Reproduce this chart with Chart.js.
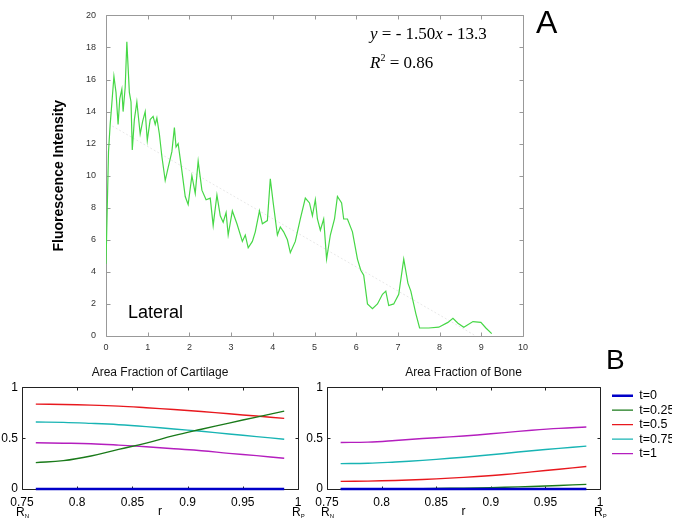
<!DOCTYPE html>
<html>
<head>
<meta charset="utf-8">
<script src="https://cdn.jsdelivr.net/npm/chart.js@4.4.1/dist/chart.umd.min.js"></script>
<style>
  html, body { margin: 0; padding: 0; background: #fff; }
  body { width: 676px; height: 522px; position: relative; overflow: hidden; font-family: "Liberation Sans", Arial, sans-serif; }
  canvas { position: absolute; display: block; }
  .lbl { position: absolute; line-height: 1; white-space: nowrap; color: #000; }
  .serif { font-family: "Liberation Serif", "Times New Roman", serif; font-size: 17px; }
</style>
</head>
<body>
<canvas id="chartA" width="676" height="360" style="left:0px;top:0px"></canvas>
<canvas id="chartB1" width="312" height="164" style="left:0px;top:358px"></canvas>
<canvas id="chartB2" width="390" height="164" style="left:300px;top:358px"></canvas>

<div class="lbl" style="left:536px;top:6px;font-size:32px">A</div>
<div class="lbl" style="left:606px;top:346px;font-size:28px">B</div>
<div class="lbl serif" style="left:370px;top:25px"><i>y</i> = - 1.50<i>x</i> - 13.3</div>
<div class="lbl serif" style="left:370px;top:54px"><i>R</i><span style="font-size:10px;position:relative;top:-7px">2</span> = 0.86</div>
<div class="lbl" style="left:128px;top:303px;font-size:18px">Lateral</div>

<script>
Chart.defaults.font.family = '"Liberation Sans", Arial, Helvetica, sans-serif';

// panel A: lateral profile
const lateralX = [0, 0.03, 0.06, 0.1, 0.14, 0.19, 0.24, 0.29, 0.33, 0.38,
  0.41, 0.46, 0.5, 0.56, 0.6, 0.63, 0.68, 0.74, 0.82, 0.88,
  0.94, 0.99, 1.06, 1.13, 1.18, 1.22, 1.28, 1.34, 1.42, 1.49,
  1.58, 1.64, 1.68, 1.73, 1.82, 1.9, 1.97, 2.06, 2.14, 2.21,
  2.3, 2.4, 2.5, 2.57, 2.66, 2.74, 2.81, 2.88, 2.93, 3.03,
  3.14, 3.27, 3.34, 3.41, 3.51, 3.58, 3.68, 3.75, 3.87, 3.94,
  4.01, 4.11, 4.18, 4.26, 4.35, 4.42, 4.54, 4.66, 4.78, 4.88,
  4.95, 5.02, 5.07, 5.14, 5.22, 5.29, 5.38, 5.48, 5.55, 5.65,
  5.7, 5.79, 5.91, 6.03, 6.11, 6.18, 6.27, 6.39, 6.51, 6.63,
  6.71, 6.78, 6.9, 7.02, 7.14, 7.24, 7.31, 7.43, 7.52, 7.74,
  7.98, 8.2, 8.32, 8.44, 8.58, 8.8, 8.99, 9.11, 9.25];
const lateralY = [4.5, 8, 11.5, 13.2, 14.5, 16.2, 15.2, 13.2, 14.8, 15.4,
  14.0, 15.5, 18.35, 15.2, 14.6, 11.6, 13.5, 14.6, 12.6, 13.4,
  14.0, 12.2, 13.5, 13.7, 13.2, 13.6, 12.6, 11.2, 9.7, 10.5,
  11.5, 13.0, 11.8, 12.0, 10.3, 8.7, 8.2, 10.0, 8.9, 10.9,
  9.1, 8.5, 8.6, 6.9, 8.8, 7.5, 7.1, 7.7, 6.3, 7.8,
  7.0, 5.9, 6.3, 5.5, 5.9, 6.5, 7.8, 7.0, 7.2, 9.8,
  8.3, 6.3, 6.8, 6.5, 6.0, 5.2, 5.9, 7.3, 8.6, 8.3,
  7.5, 8.5, 7.3, 6.6, 7.3, 4.8, 6.3, 7.3, 8.7, 8.3,
  7.3, 7.3, 6.5, 4.8, 4.1, 3.8, 2.0, 1.7, 2.0, 2.6,
  2.8, 1.9, 2.0, 2.6, 4.8, 3.3, 2.8, 1.4, 0.5, 0.5,
  0.55, 0.85, 1.1, 0.8, 0.55, 0.9, 0.85, 0.5, 0.15];
// fitted line end points
const fitX = [0.15, 8.87];
const fitY = [13.1, 0];

// panel B
const rPoints = [0.7625, 0.7875, 0.8125, 0.8375, 0.8625, 0.8875, 0.9125, 0.9375, 0.9625, 0.9875];
const timeLabels = ['t=0', 't=0.25', 't=0.5', 't=0.75', 't=1'];
const cartT0   = [0, 0, 0, 0, 0, 0, 0, 0, 0, 0];
const cartT025 = [0.26, 0.279, 0.325, 0.39, 0.452, 0.525, 0.588, 0.649, 0.708, 0.766];
const cartT05  = [0.835, 0.832, 0.826, 0.816, 0.80, 0.782, 0.763, 0.74, 0.718, 0.695];
const cartT075 = [0.659, 0.656, 0.646, 0.633, 0.614, 0.591, 0.568, 0.542, 0.516, 0.49];
const cartT1   = [0.455, 0.451, 0.445, 0.432, 0.416, 0.396, 0.377, 0.351, 0.328, 0.302];
const boneT0   = [0, 0, 0, 0, 0, 0, 0, 0, 0, 0];
const boneT025 = [0, 0.001, 0.002, 0.004, 0.007, 0.011, 0.017, 0.025, 0.035, 0.046];
const boneT05  = [0.075, 0.078, 0.084, 0.094, 0.107, 0.123, 0.143, 0.169, 0.195, 0.221];
const boneT075 = [0.25, 0.253, 0.266, 0.282, 0.302, 0.325, 0.35, 0.377, 0.4, 0.422];
const boneT1   = [0.458, 0.461, 0.477, 0.497, 0.513, 0.532, 0.555, 0.578, 0.597, 0.61];

const lineColors = ['#0000c8', '#1a7a1a', '#e8181e', '#18b4b4', '#b41ebe'];
const lineWidths = [2.5, 1.4, 1.4, 1.4, 1.4];

// box round the plot area with small inward ticks on all four sides
const innerTicks = {
  id: 'innerTicks',
  beforeDatasetsDraw(chart, args, opts) {
    const { ctx, chartArea: a, scales: { x, y } } = chart;
    const L = Math.round(a.left) + 0.5, R = Math.round(a.right) + 0.5;
    const T = Math.round(a.top) + 0.5, B = Math.round(a.bottom) + 0.5;
    ctx.save();
    ctx.strokeStyle = opts.color;
    ctx.lineWidth = 1;
    ctx.beginPath();
    ctx.rect(L, T, R - L, B - T);
    x.ticks.forEach(t => {
      const p = Math.round(x.getPixelForValue(t.value)) + 0.5;
      ctx.moveTo(p, B); ctx.lineTo(p, B - opts.len);
      ctx.moveTo(p, T); ctx.lineTo(p, T + opts.len);
    });
    y.ticks.forEach(t => {
      const p = Math.round(y.getPixelForValue(t.value)) + 0.5;
      ctx.moveTo(L, p); ctx.lineTo(L + opts.len, p);
      ctx.moveTo(R, p); ctx.lineTo(R - opts.len, p);
    });
    ctx.stroke();
    ctx.restore();
  }
};

// R_N and R_P under the end ticks
const endLabels = {
  id: 'endLabels',
  afterDraw(chart) {
    const { ctx, chartArea, scales: { x } } = chart;
    const base = chartArea.bottom + 27;
    [[0.75, 'N'], [1, 'P']].forEach(([v, sub]) => {
      const px = x.getPixelForValue(v);
      ctx.save();
      ctx.fillStyle = '#000';
      ctx.textAlign = 'left';
      ctx.textBaseline = 'alphabetic';
      ctx.font = '12px "Liberation Sans", Arial, sans-serif';
      const w = ctx.measureText('R').width;
      ctx.fillText('R', px - 6, base);
      ctx.font = '6px "Liberation Sans", Arial, sans-serif';
      ctx.fillText(sub, px - 6 + w, base + 2);
      ctx.restore();
    });
  }
};

new Chart(document.getElementById('chartA'), {
  type: 'scatter',
  data: {
    datasets: [
      {
        data: lateralX.map((x, i) => ({ x, y: lateralY[i] })),
        showLine: true, borderColor: '#46d746', borderWidth: 1.2, pointRadius: 0
      },
      {
        data: fitX.map((x, i) => ({ x, y: fitY[i] })),
        showLine: true, borderColor: '#e8e8e8', borderWidth: 1, borderDash: [2, 2], pointRadius: 0
      }
    ]
  },
  options: {
    responsive: false, animation: false, devicePixelRatio: 1,
    layout: { padding: { left: 0, right: 153, top: 7, bottom: 0 } },
    plugins: {
      legend: { display: false }, tooltip: { enabled: false },
      innerTicks: { color: '#999', len: 4 }
    },
    scales: {
      x: {
        type: 'linear', min: 0, max: 10,
        ticks: { stepSize: 1, font: { size: 9 }, color: '#333', padding: 6, maxRotation: 0 },
        grid: { display: false, drawTicks: false }, border: { display: false },
        afterFit: s => { s.height = 24; }
      },
      y: {
        min: 0, max: 20,
        ticks: { stepSize: 2, font: { size: 9 }, color: '#333', padding: 10 },
        grid: { display: false, drawTicks: false }, border: { display: false },
        title: { display: true, text: 'Fluorescence Intensity', color: '#000',
          font: { size: 14, weight: 'bold' }, padding: { top: 51, bottom: 0 } },
        afterFit: s => { s.width = 106; }
      }
    }
  },
  plugins: [innerTicks]
});

function timeSets(series) {
  return series.map((vals, i) => ({
    label: timeLabels[i],
    data: rPoints.map((r, j) => ({ x: r, y: vals[j] })),
    borderColor: lineColors[i], backgroundColor: lineColors[i],
    borderWidth: lineWidths[i], pointRadius: 0, tension: 0.4, clip: 4, yAxisID: 'y'
  }));
}

const fmt = v => String(Number(v.toFixed(2)));

function bScales(yWidth) {
  return {
    x: {
      type: 'linear', min: 0.75, max: 1,
      ticks: { stepSize: 0.05, font: { size: 12 }, color: '#000', padding: 6, maxRotation: 0,
        autoSkip: false, callback: fmt },
      grid: { display: false, drawTicks: false }, border: { display: false },
      title: { display: true, text: 'r', color: '#000', font: { size: 12 }, padding: { top: 0, bottom: 3 } },
      afterFit: s => { s.height = 33; }
    },
    y: {
      min: 0, max: 1,
      ticks: { stepSize: 0.5, font: { size: 12 }, color: '#000', padding: 4, callback: fmt },
      grid: { display: false, drawTicks: false }, border: { display: false },
      afterFit: s => { s.width = yWidth; }
    }
  };
}

new Chart(document.getElementById('chartB1'), {
  type: 'line',
  data: { datasets: timeSets([cartT0, cartT025, cartT05, cartT075, cartT1]) },
  options: {
    responsive: false, animation: false, devicePixelRatio: 1,
    layout: { padding: { left: 0, right: 14, top: 0, bottom: 0 } },
    plugins: {
      legend: { display: false }, tooltip: { enabled: false },
      title: { display: true, text: 'Area Fraction of Cartilage', fullSize: false, color: '#111',
        font: { size: 12, weight: 'normal' }, padding: { top: 7, bottom: 8 } },
      innerTicks: { color: '#222', len: 3 }
    },
    scales: bScales(22)
  },
  plugins: [innerTicks, endLabels]
});

const scalesB2 = bScales(27);
scalesB2.y2 = {
  position: 'right', min: 0, max: 1,
  ticks: { display: false },
  grid: { display: false, drawTicks: false }, border: { display: false },
  afterFit: s => { s.width = 10; }
};

new Chart(document.getElementById('chartB2'), {
  type: 'line',
  data: { datasets: timeSets([boneT0, boneT025, boneT05, boneT075, boneT1]) },
  options: {
    responsive: false, animation: false, devicePixelRatio: 1,
    layout: { padding: { left: 0, right: 18, top: 0, bottom: 0 } },
    plugins: {
      legend: {
        position: 'right', align: 'start', fullSize: false,
        labels: { usePointStyle: true, pointStyle: 'line', pointStyleWidth: 21,
          font: { size: 12.5 }, color: '#000', padding: 2 }
      },
      tooltip: { enabled: false },
      title: { display: true, text: 'Area Fraction of Bone', fullSize: false, color: '#111',
        font: { size: 12, weight: 'normal' }, padding: { top: 7, bottom: 8 } },
      innerTicks: { color: '#222', len: 3 }
    },
    scales: scalesB2
  },
  plugins: [innerTicks, endLabels]
});
</script>
</body>
</html>
